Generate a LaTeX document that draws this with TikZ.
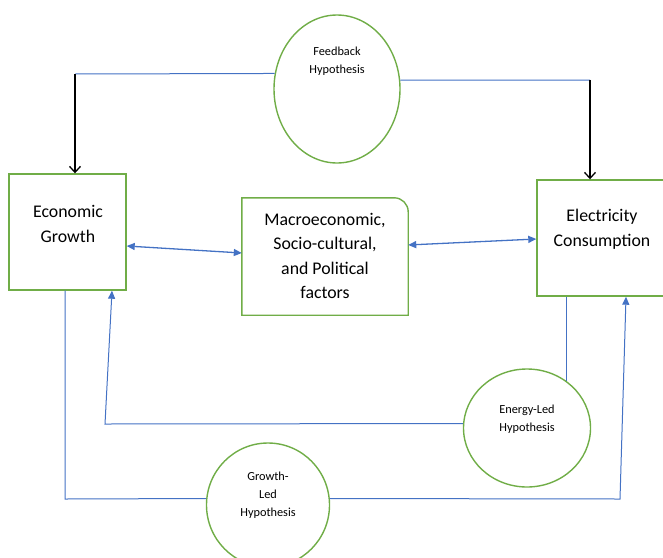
\documentclass[tikz,border=0pt]{standalone}
\usepackage{fontspec}
\setmainfont{Carlito}
\usepackage{tikz}
\usetikzlibrary{shapes.geometric,arrows.meta}

\definecolor{boxgreen}{RGB}{112,173,71}
\definecolor{lineblue}{RGB}{68,114,196}

\begin{document}
\begin{tikzpicture}[x=1pt, y={(0,-1pt)},
  box/.style={draw=boxgreen, line width=1.4pt, minimum width=#1, inner sep=0pt},
  hyp/.style={ellipse, draw=boxgreen, line width=1.4pt, inner sep=0pt},
  bigtext/.style={align=center, font=\fontsize{17.8}{24.5}\selectfont},
  smalltext/.style={align=center, font=\fontsize{12.3}{18}\selectfont},
  bl/.style={draw=lineblue, line width=1pt},
  blarrow/.style={bl, -{Triangle[length=8pt,width=7pt]}},
  bkarrow/.style={black, line width=1.3pt, -{Straight Barb[length=6pt,width=11pt,line width=1.3pt]}},
  dblarrow/.style={draw=lineblue, line width=1.3pt, {Triangle[length=8pt,width=7pt]}-{Triangle[length=8pt,width=7pt]}}]
  \useasboundingbox (0,0) rectangle (663,557);

  % boxes
  \node[box=117pt, minimum height=116pt] (eg) at (67.5,232) {};
  \node[box=128pt, minimum height=116pt] (ec) at (601,238) {};
  \node[minimum width=166pt, minimum height=117pt, inner sep=0pt] (mf) at (325,256.5) {};
  \draw[boxgreen, line width=1.4pt] (mf.south west) -- (mf.north west)
    -- ([xshift=-14pt]mf.north east) arc[start angle=90, end angle=0, radius=14pt]
    -- (mf.south east) -- cycle;

  \node[bigtext] (egtext) at (68,224) {Economic\\Growth};
  \node[bigtext] (ectext) at (602,229) {Electricity\\Consumption};
  \node[bigtext] (mftext) at (325,256) {Macroeconomic,\\Socio-cultural,\\and Political\\factors};

  % hypotheses
  \node[hyp, minimum width=126pt, minimum height=148pt] (fb) at (337,89) {};
  \node[hyp, minimum width=127pt, minimum height=118pt] (el) at (527,428) {};
  \node[hyp, minimum width=123pt, minimum height=124pt] (gl) at (268,505) {};

  \node[smalltext] (fbtext) at (337,61) {Feedback\\Hypothesis};
  \node[smalltext] (eltext) at (527,419) {Energy-Led\\Hypothesis};
  \node[smalltext] (gltext) at (268,495) {Growth-\\Led\\Hypothesis};

  % feedback
  \coordinate (fbl) at (75,74);
  \coordinate (fbr) at (590,80);
  \draw[bl] (fb.166) -- (fbl);
  \draw[bkarrow] (fbl) -- (fbl |- eg.north);
  \draw[bl] (fb.8) -- (fbr);
  \draw[bkarrow] (fbr) -- (fbr |- ec.north);

  % factors
  \draw[dblarrow] ([yshift=-14pt]eg.east) -- ([yshift=3.5pt]mf.west);
  \draw[dblarrow] ([yshift=11.5pt]mf.east) -- ([yshift=-1pt]ec.west);

  % energy-led
  \coordinate (elc) at (105,424);
  \draw[bl] (el.50) -- (el.50 |- ec.south);
  \draw[blarrow] (el.176) -- (elc) -- ([xshift=44.5pt]eg.south);

  % growth-led
  \coordinate (glc) at (65,499);
  \coordinate (grc) at (620,499);
  \draw[bl] (gl.174) -- (glc) -- (glc |- eg.south);
  \draw[blarrow] (gl.6) -- (grc) -- ([xshift=25pt]ec.south);
\end{tikzpicture}
\end{document}
